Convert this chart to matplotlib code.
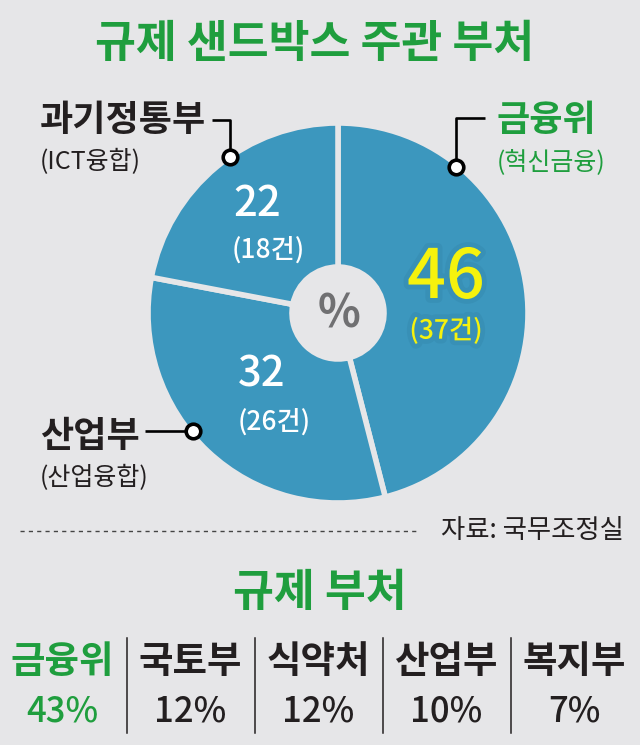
import matplotlib
matplotlib.use('Agg')
from matplotlib import pyplot as plt
from matplotlib import patheffects as pe

plt.rcParams['font.family'] = ['Noto Sans CJK KR', 'DejaVu Sans']
NUMFONT = ['Noto Sans CJK JP', 'DejaVu Sans']

# Pie: share of sandbox approvals by ministry (%), with case counts
pie_names = ['금융위', '산업부', '과기정통부']
pie_subs = ['혁신금융', '산업융합', 'ICT융합']
pie_pct = [46, 32, 22]
pie_cnt = [37, 26, 18]

# Regulating ministries
dept_names = ['금융위', '국토부', '식약처', '산업부', '복지부']
dept_pct = [43, 12, 12, 10, 7]

W, H = 640, 745
BG = '#e6e6e8'
BLUE = '#3c97be'
GREEN = '#1f9e3e'
BLACK = '#231f20'
YELLOW = '#f6f20d'


def fy(y):
    # image rows (top = 0) to axes y
    return H - y


fig = plt.figure(figsize=(W / 100, H / 100), dpi=100, facecolor=BG)
ax = fig.add_axes([0, 0, 1, 1])
ax.set_facecolor(BG)

# title
ax.text(315, fy(44), '규제 샌드박스 주관 부처', ha='center', va='center',
        fontsize=32, fontweight='bold', color=GREEN)

# donut
cx, cy, r, hole = 338, 313, 190, 46
ax.pie(pie_pct, startangle=90, counterclock=False, center=(cx, fy(cy)), radius=r,
       colors=[BLUE] * len(pie_pct),
       wedgeprops=dict(width=r - hole, edgecolor=BG, linewidth=4))
ax.text(cx + 1, fy(cy + 1), '%', ha='center', va='center', fontsize=32,
        fontweight='bold', color='#707072')

# numbers inside the wedges (same order as pie data)
num_pos = [(446, 278), (262, 374), (257, 203)]
cnt_pos = [(446, 331), (274, 422), (268, 250)]
num_size = [49, 30, 30]
cnt_size = [19, 19, 19]
num_color = [YELLOW, 'white', 'white']
glow = [pe.withStroke(linewidth=7, foreground='#1e5f80', alpha=0.12)]
for i in range(len(pie_pct)):
    eff = glow if i == 0 else None
    ax.text(num_pos[i][0], fy(num_pos[i][1]), f'{pie_pct[i]}', ha='center',
            va='center', fontsize=num_size[i], fontweight=500, family=NUMFONT,
            color=num_color[i], path_effects=eff)
    ax.text(cnt_pos[i][0], fy(cnt_pos[i][1]), f'({pie_cnt[i]}건)', ha='center',
            va='center', fontsize=cnt_size[i], fontweight=500, family=NUMFONT,
            color=num_color[i], path_effects=eff)

# callouts: (label x, label y, leader line points, label colour)
callouts = [
    (497, 120, [(485, 118), (456, 118), (456, 167)], GREEN),
    (40, 436, [(145, 431), (193, 431)], BLACK),
    (40, 120, [(212, 120), (230, 120), (230, 157)], BLACK),
]
for i, (lx, ly, pts, col) in enumerate(callouts):
    ax.text(lx, fy(ly), pie_names[i], ha='left', va='center', fontsize=26,
            fontweight='bold', color=col)
    ax.text(lx, fy(ly + 42), f'({pie_subs[i]})', ha='left', va='center',
            fontsize=18, color=col)
    xs = [p[0] for p in pts]
    ys = [fy(p[1]) for p in pts]
    ax.plot(xs, ys, color='black', lw=1.9, solid_capstyle='butt', zorder=5)
    ax.plot(xs[-1], ys[-1], 'o', ms=10.5, mfc='white', mec='black', mew=2.6,
            zorder=6)

# source line
ax.plot([20, 420], [fy(531), fy(531)], color='#444444', lw=1,
        linestyle=(0, (3, 3)))
ax.text(624, fy(531), '자료: 국무조정실', ha='right', va='center', fontsize=19,
        color=BLACK)

# regulating ministries
ax.text(320, fy(593), '규제 부처', ha='center', va='center', fontsize=32,
        fontweight='bold', color=GREEN)
col_w = W / len(dept_names)
for i in range(len(dept_names)):
    x = col_w * (i + 0.5) - 2
    col = GREEN if i == 0 else BLACK
    ax.text(x, fy(661), dept_names[i], ha='center', va='center', fontsize=27,
            fontweight='bold', color=col)
    ax.text(x, fy(712), f'{dept_pct[i]}%', ha='center', va='center',
            fontsize=25, fontweight=500, family=NUMFONT, color=col)
    if i > 0:
        xd = col_w * i - 1
        ax.plot([xd, xd], [fy(638), fy(733)], color=BLACK, lw=1.1)

ax.set_xlim(0, W)
ax.set_ylim(0, H)
ax.set_aspect('equal')
ax.axis('off')

fig.savefig('out.png', dpi=100, facecolor=BG)
